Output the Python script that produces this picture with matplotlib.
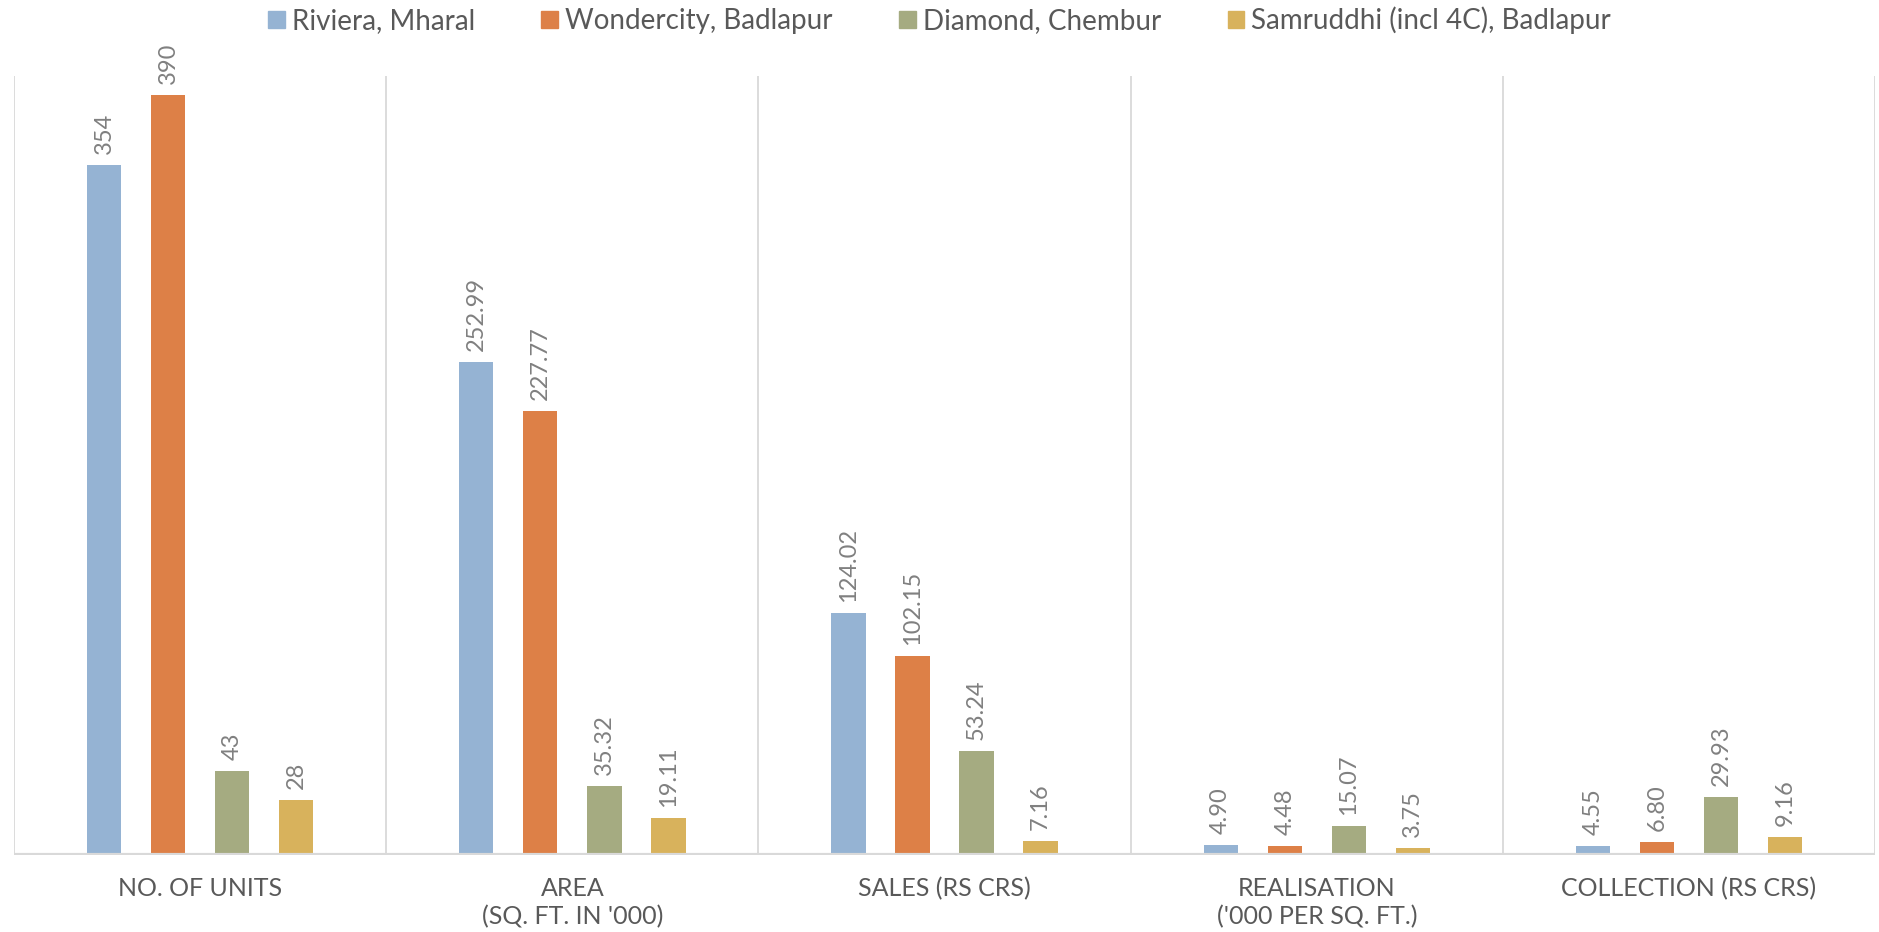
import numpy as np
import matplotlib.pyplot as plt
from matplotlib.patches import Patch

plt.rcParams['font.family'] = ['Lato', 'DejaVu Sans']

# data
categories = ["NO. OF UNITS", "AREA\n(SQ. FT. IN '000)", "SALES (RS CRS)",
              "REALISATION\n('000 PER SQ. FT.)", "COLLECTION (RS CRS)"]
series_names = ["Riviera, Mharal", "Wondercity, Badlapur",
                "Diamond, Chembur", "Samruddhi (incl 4C), Badlapur"]
riviera = [354, 252.99, 124.02, 4.90, 4.55]
wondercity = [390, 227.77, 102.15, 4.48, 6.80]
diamond = [43, 35.32, 53.24, 15.07, 29.93]
samruddhi = [28, 19.11, 7.16, 3.75, 9.16]
labels = [
    ["354", "252.99", "124.02", "4.90", "4.55"],
    ["390", "227.77", "102.15", "4.48", "6.80"],
    ["43", "35.32", "53.24", "15.07", "29.93"],
    ["28", "19.11", "7.16", "3.75", "9.16"],
]
colors = ["#95B3D3", "#DD8047", "#A5AB81", "#D8B25C"]

fig = plt.figure(figsize=(18.79, 9.32), dpi=100)
ax = fig.add_axes([0.0075, 0.0826, 0.9904, 0.836])

x = np.arange(len(categories))
step = 0.172
width = 0.092
all_series = [riviera, wondercity, diamond, samruddhi]
for i, vals in enumerate(all_series):
    pos = x + (i - 1.5) * step
    ax.bar(pos, vals, width=width, color=colors[i], zorder=3)
    for xp, v, lab in zip(pos, vals, labels[i]):
        ax.annotate(lab, (xp, v), xytext=(0, 8), textcoords='offset points',
                    rotation=90, ha='center', va='bottom', fontsize=17,
                    color='#808080')

# group separators and baseline
for b in np.arange(-0.5, len(categories) + 0.5, 1.0):
    ax.axvline(b, color='#d9d9d9', lw=1.3, zorder=1)
ax.axhline(0, color='#d9d9d9', lw=3, zorder=4)

ax.set_xlim(-0.5, len(categories) - 0.5)
ax.set_ylim(0, 400)
ax.set_yticks([])
ax.set_xticks(x)
ax.set_xticklabels(categories, fontsize=18, color='#595959', linespacing=1.25)
ax.tick_params(axis='x', length=0, pad=16)
for s in ax.spines.values():
    s.set_visible(False)

handles = [Patch(color=c) for c in colors]
fig.legend(handles, series_names, loc='center', bbox_to_anchor=(0.5, 0.978),
           ncol=4, frameon=False, fontsize=20, labelcolor='#595959',
           handlelength=0.6, handleheight=0.6, handletextpad=0.25,
           columnspacing=2.4)

fig.savefig('out.png', dpi=100)
